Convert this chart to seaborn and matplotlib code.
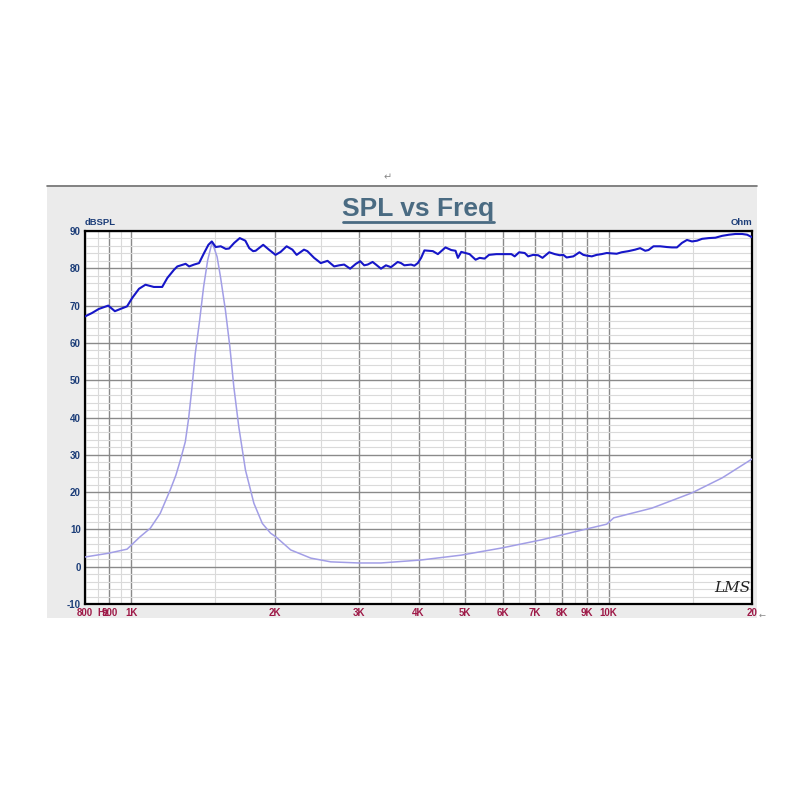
import pandas as pd
import matplotlib.pyplot as plt
import seaborn as sns
from matplotlib.patches import Rectangle
from matplotlib.lines import Line2D
from matplotlib.ticker import NullFormatter

sns.set_style("white")
plt.rcParams['font.family'] = ['Liberation Sans', 'DejaVu Sans']
plt.rcParams['axes.unicode_minus'] = False

# SPL curve (dBSPL)
spl_freq = [800, 827, 855, 895, 924, 949, 980, 1004, 1038, 1071, 1115, 1161, 1190, 1229, 1249,
            1300, 1322, 1354, 1387, 1421, 1451, 1475, 1503, 1540, 1578, 1603, 1643, 1688, 1734,
            1767, 1800, 1822, 1890, 1943, 2006, 2056, 2116, 2176, 2221, 2301, 2339, 2416, 2495,
            2578, 2662, 2727, 2793, 2875, 2956, 3018, 3077, 3128, 3204, 3256, 3336, 3417, 3501,
            3616, 3674, 3734, 3858, 3919, 3985, 4049, 4114, 4285, 4390, 4554, 4682, 4780, 4835,
            4914, 5115, 5266, 5369, 5500, 5618, 5821, 6058, 6258, 6359, 6497, 6675, 6786, 6952,
            7122, 7272, 7512, 7718, 7906, 8040, 8170, 8440, 8690, 8856, 9000, 9224, 9443, 9672,
            9913, 10152, 10400, 10656, 11008, 11368, 11648, 11936, 12128, 12424, 12832, 13256,
            13576, 13912, 14248, 14600, 14960, 15328, 15704, 16216, 16744, 17296, 17872, 18448,
            19056, 19520, 20000]
spl_db = [67.1, 68.0, 69.1, 70.0, 68.5, 69.1, 69.8, 72.0, 74.5, 75.6, 75.0, 75.0, 77.4, 79.6, 80.5,
          81.2, 80.5, 81.0, 81.4, 84.1, 86.3, 87.2, 85.7, 85.9, 85.2, 85.3, 86.8, 88.1, 87.4,
          85.4, 84.6, 84.7, 86.3, 85.0, 83.6, 84.4, 85.9, 85.0, 83.6, 85.0, 84.6, 82.8, 81.4,
          82.0, 80.5, 80.8, 81.0, 79.9, 81.2, 81.9, 80.8, 81.0, 81.7, 81.0, 79.9, 80.8, 80.3,
          81.7, 81.4, 80.8, 81.0, 80.7, 81.4, 82.8, 84.8, 84.6, 83.8, 85.6, 84.9, 84.7, 82.8,
          84.4, 83.8, 82.3, 82.8, 82.6, 83.6, 83.8, 83.8, 83.8, 83.2, 84.3, 84.1, 83.2, 83.6,
          83.5, 82.8, 84.3, 83.8, 83.5, 83.6, 82.9, 83.2, 84.3, 83.6, 83.4, 83.2, 83.6, 83.8,
          84.1, 84.0, 83.9, 84.3, 84.6, 85.0, 85.4, 84.7, 84.9, 85.9, 85.9, 85.7,
          85.6, 85.6, 86.8, 87.6, 87.2, 87.4, 87.9, 88.1, 88.2, 88.7, 89.0, 89.2,
          89.2, 89.0, 88.3]

# impedance curve (Ohm), same vertical grid
imp_freq = [800, 895, 980, 1043, 1096, 1150, 1207, 1240, 1267, 1298, 1319, 1341, 1362, 1391, 1418,
            1446, 1477, 1513, 1538, 1575, 1609, 1640, 1680, 1735, 1807, 1882, 1958, 2009, 2158,
            2378, 2618, 3000, 3336, 4049, 4913, 5962, 7237, 8783, 9913, 10256, 12328, 14960,
            17296, 20000]
imp_ohm = [2.6, 3.6, 4.7, 8.0, 10.3, 14.3, 20.6, 24.5, 28.5, 33.5, 39.8, 48.3, 57.2, 66.1, 75.1,
           82.2, 87.0, 83.1, 77.7, 68.8, 59.0, 48.3, 37.5, 25.9, 17.0, 11.6, 9.0, 8.0, 4.5,
           2.3, 1.3, 1.0, 1.0, 1.8, 3.1, 5.0, 7.2, 9.8, 11.4, 13.1, 15.7, 19.8,
           23.8, 28.9]

x_major = [800, 900, 1000, 2000, 3000, 4000, 5000, 6000, 7000, 8000, 9000, 10000, 20000]
x_major_labels = ['800', '900', '1K', '2K', '3K', '4K', '5K', '6K', '7K', '8K', '9K', '10K', '20']
x_minor = [850, 950, 1500, 2500, 3500, 4500, 5500, 6500, 7500, 8500, 9500, 15000]

spl_df = pd.DataFrame({'freq': spl_freq, 'dB': spl_db})
imp_df = pd.DataFrame({'freq': imp_freq, 'ohm': imp_ohm})

fig = plt.figure(figsize=(8, 8), dpi=100)

# grey panel behind the chart
fig.add_artist(Rectangle((0.05875, 0.2275), 0.8875, 0.541, transform=fig.transFigure,
                         facecolor='#ebebeb', edgecolor='none', zorder=-2))
fig.add_artist(Line2D([0.05875, 0.946], [0.7675, 0.7675], transform=fig.transFigure,
                      color='#707070', lw=1.2))

ax = fig.add_axes([0.10625, 0.245, 0.834, 0.46625])
ax.set_facecolor('white')

sns.lineplot(data=imp_df, x='freq', y='ohm', ax=ax, color='#a29ee6', lw=1.1, zorder=3)
sns.lineplot(data=spl_df, x='freq', y='dB', ax=ax, color='#1616c8', lw=1.5, zorder=4)

ax.set_xscale('log')
ax.set_xlim(800, 20000)
ax.set_ylim(-10, 90)
ax.set_xticks(x_major, x_major_labels)
ax.set_xticks(x_minor, minor=True)
ax.xaxis.set_minor_formatter(NullFormatter())
ax.set_yticks(range(-10, 91, 10))
ax.set_yticks(range(-10, 91, 2), minor=True)
ax.grid(which='minor', color='#dadada', lw=0.8)
ax.grid(which='major', color='#8a8a8a', lw=1.0)
ax.set_axisbelow(True)
ax.tick_params(which='both', length=0)
ax.tick_params(axis='x', labelcolor='#9e1a48', labelsize=7, pad=3)
ax.tick_params(axis='y', labelcolor='#1c3d78', labelsize=7, pad=3)
for lab in ax.get_xticklabels() + ax.get_yticklabels():
    lab.set_fontweight('bold')
ax.set_xlabel('')
ax.set_ylabel('')
for s in ax.spines.values():
    s.set_visible(True)
    s.set_color('black')
    s.set_linewidth(1.6)

# "Hz" sits on top of the 900 label, as in the original screenshot
ax.annotate('Hz', xy=(872, -10), xycoords='data', xytext=(0, -3), textcoords='offset points',
            ha='center', va='top', fontsize=7, fontweight='bold', color='#9e1a48',
            annotation_clip=False)

# title with underline
fig.text(0.5225, 0.739, 'SPL vs Freq', ha='center', va='center', fontsize=19,
         fontweight='bold', color='#4a6b82')
fig.add_artist(Line2D([0.429, 0.6175], [0.7225, 0.7225], transform=fig.transFigure,
                      color='#4a6b82', lw=2))

fig.text(0.10625, 0.7215, 'dBSPL', ha='left', va='center', fontsize=6.8,
         fontweight='bold', color='#1c3d78')
fig.text(0.94, 0.7215, 'Ohm', ha='right', va='center', fontsize=6.8,
         fontweight='bold', color='#1c3d78')
fig.text(0.916, 0.265, 'LMS', ha='center', va='center', fontsize=11, style='italic',
         family='DejaVu Serif', color='#222222')

fig.text(0.485, 0.779, '↵', ha='center', va='center', fontsize=7, color='#888888',
         family='DejaVu Sans')
fig.text(0.953, 0.231, '←', ha='center', va='center', fontsize=6, color='#888888',
         family='DejaVu Sans')

fig.savefig('out.png', dpi=100)
